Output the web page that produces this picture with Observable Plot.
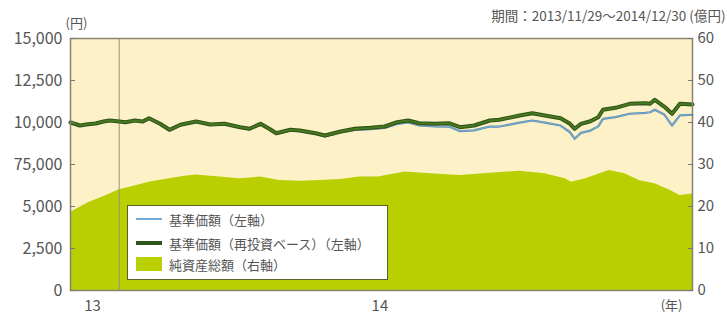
<!DOCTYPE html>
<html><head><meta charset="utf-8">
<script src="https://cdn.jsdelivr.net/npm/d3@7"></script>
<script src="https://cdn.jsdelivr.net/npm/@observablehq/plot@0.6"></script>
<style>
body{margin:0;background:#fff;}
#wrap{position:relative;width:727px;height:317px;font-family:"Noto Sans CJK JP",sans-serif;}
.legend{position:absolute;left:127px;top:205px;width:261px;height:75px;background:#fff;border:1.5px solid #56602a;box-sizing:border-box;font-size:13px;color:#555;}
.row{position:absolute;left:0;height:20px;display:flex;align-items:center;white-space:nowrap;}
.sw{width:26px;margin-left:8px;margin-right:7px;}
</style></head>
<body><div id="wrap"></div>
<script>
// 基準価額（再投資ベース）と基準価額（円）
const navDates = ["2013-11-29","2013-12-05","2013-12-10","2013-12-15","2013-12-20","2013-12-24","2013-12-30","2014-01-03","2014-01-09","2014-01-14","2014-01-18","2014-01-25","2014-01-31","2014-02-07","2014-02-17","2014-02-26","2014-03-07","2014-03-17","2014-03-23","2014-03-30","2014-04-05","2014-04-09","2014-04-18","2014-04-24","2014-05-04","2014-05-10","2014-05-20","2014-05-29","2014-06-08","2014-06-17","2014-06-25","2014-07-02","2014-07-09","2014-07-19","2014-07-28","2014-08-04","2014-08-13","2014-08-23","2014-08-29","2014-09-11","2014-09-19","2014-09-27","2014-10-07","2014-10-13","2014-10-16","2014-10-20","2014-10-26","2014-10-31","2014-11-03","2014-11-11","2014-11-20","2014-11-30","2014-12-03","2014-12-06","2014-12-12","2014-12-17","2014-12-22","2014-12-30"];
const navReinvest = [10000,9821,9900,9940,10060,10119,10060,10018,10119,10060,10256,9922,9565,9863,10060,9881,9922,9720,9625,9922,9600,9363,9565,9524,9363,9226,9464,9625,9684,9762,10018,10119,9958,9922,9958,9720,9821,10119,10161,10417,10554,10417,10256,9922,9625,9922,10077,10315,10756,10875,11113,11149,11113,11351,10952,10518,11113,11071];
const navBase = [10000,9821,9895,9935,10050,10110,10050,10005,10105,10045,10240,9905,9545,9840,10035,9855,9895,9690,9595,9890,9565,9325,9525,9480,9315,9175,9405,9560,9610,9680,9920,10000,9830,9770,9760,9480,9530,9760,9760,9990,10120,9990,9820,9420,9030,9380,9520,9770,10220,10320,10520,10570,10610,10760,10480,9820,10420,10460];
// 純資産総額（億円）
const assetDates = ["2013-11-29","2013-12-05","2013-12-11","2013-12-18","2013-12-24","2013-12-30","2014-01-06","2014-01-18","2014-01-31","2014-02-10","2014-02-17","2014-03-04","2014-03-17","2014-03-30","2014-04-11","2014-04-24","2014-05-07","2014-05-20","2014-06-01","2014-06-13","2014-06-30","2014-07-16","2014-08-04","2014-08-23","2014-09-11","2014-09-27","2014-10-10","2014-10-14","2014-10-23","2014-11-01","2014-11-07","2014-11-17","2014-11-26","2014-12-06","2014-12-16","2014-12-22","2014-12-30"];
const netAssets = [18.6,19.8,21.0,22.0,23.0,24.0,24.6,25.8,26.6,27.2,27.5,27.0,26.6,27.0,26.2,26.0,26.2,26.4,27.0,27.0,28.2,27.8,27.4,27.9,28.4,27.8,26.6,25.8,26.6,27.8,28.6,27.8,26.2,25.4,23.8,22.6,23.0];
// 軸
const leftTicks = [0,2500,5000,7500,10000,12500,15000];
const leftTickLabels = ["0","2,500","5,000","75,000","10,000","12,500","15,000"];
const rightTickLabels = ["0","10","20","30","40","50","60"];
const yearTickDates = ["2013-12-13","2014-06-14"];
const yearTickLabels = ["13","14"];
const yearBoundary = ["2013-12-30"];
const periodStart = "2013-11-29", periodEnd = "2014-12-30";
const titleText = "期間：2013/11/29～2014/12/30 (億円)";
const yenUnit = "(円)", yearUnit = "(年)";
const legendLabels = ["基準価額（左軸）","基準価額（再投資ベース）（左軸）","純資産総額（右軸）"];

const C = {bg:"#fdf1c8", area:"#b9cf00", greenDark:"#2f5419", green:"#4a7a1e", blue:"#74aad6", frame:"#8a8272", text:"#555"};
const parse = d3.utcParse("%Y-%m-%d");
const fmt = d3.utcFormat("%Y-%m-%d");
const nav = navDates.map((d,i)=>({date:parse(d), re:navReinvest[i], base:navBase[i]}));
const assets = assetDates.map((d,i)=>({date:parse(d), v:netAssets[i]*250}));

const chart = Plot.plot({
  width:727, height:317,
  marginLeft:70, marginRight:35, marginTop:38, marginBottom:27,
  style:{fontFamily:'"Noto Sans CJK JP",sans-serif', fontSize:"16px", color:C.text, background:"transparent", overflow:"visible"},
  x:{type:"utc", domain:[parse(periodStart), parse(periodEnd)]},
  y:{domain:[0,15000]},
  marks:[
    Plot.frame({fill:C.bg}),
    Plot.areaY(assets, {x:"date", y:"v", fill:C.area, curve:"linear"}),
    Plot.ruleX(yearBoundary.map(parse), {stroke:"#9a9080", strokeWidth:1}),
    Plot.lineY(nav, {x:"date", y:"base", stroke:"#5f8aa8", strokeWidth:2.2, strokeLinejoin:"round"}),
    Plot.lineY(nav, {x:"date", y:"base", stroke:C.blue, strokeWidth:1.2, strokeLinejoin:"round"}),
    Plot.lineY(nav, {x:"date", y:"re", stroke:C.greenDark, strokeWidth:4, strokeLinejoin:"round"}),
    Plot.lineY(nav, {x:"date", y:"re", stroke:C.green, strokeWidth:1.8, strokeLinejoin:"round"}),
    Plot.frame({stroke:C.frame, strokeWidth:1.5}),
    Plot.axisY(leftTicks, {anchor:"left", tickSize:-5, tickPadding:13, tickFormat:d=>leftTickLabels[leftTicks.indexOf(d)], color:"#777", fill:C.text, label:null}),
    Plot.axisY(leftTicks, {anchor:"right", tickSize:-5, tickPadding:10, tickFormat:d=>rightTickLabels[leftTicks.indexOf(d)], color:"#777", fill:C.text, fontSize:15, label:null}),
    Plot.axisX(yearTickDates.map(parse), {anchor:"bottom", tickSize:0, tickPadding:10, tickFormat:d=>yearTickLabels[yearTickDates.indexOf(fmt(d))], fill:C.text, fontSize:15, label:null}),
    Plot.text([yenUnit], {frameAnchor:"top-left", dx:-5, dy:-20, text:d=>d, fill:C.text, fontSize:13}),
    Plot.text([titleText], {frameAnchor:"top-right", dx:33, dy:-27, text:d=>d, textAnchor:"end", fill:C.text, fontSize:13.5}),
    Plot.text([yearUnit], {frameAnchor:"bottom-right", dx:-10, dy:19, text:d=>d, fill:C.text, fontSize:13})
  ]
});
const wrap = document.getElementById("wrap");
wrap.appendChild(chart);

const lg = document.createElement("div");
lg.className = "legend";
const swatches = [
  `<div class="sw" style="height:2px;background:${C.blue}"></div>`,
  `<div class="sw" style="height:4px;background:${C.greenDark}"></div>`,
  `<div class="sw" style="height:14px;background:${C.area}"></div>`
];
const tops = [3,27,48];
lg.innerHTML = legendLabels.map((t,i)=>`<div class="row" style="top:${tops[i]}px">${swatches[i]}<span>${t}</span></div>`).join("");
wrap.appendChild(lg);
</script>
</body></html>
